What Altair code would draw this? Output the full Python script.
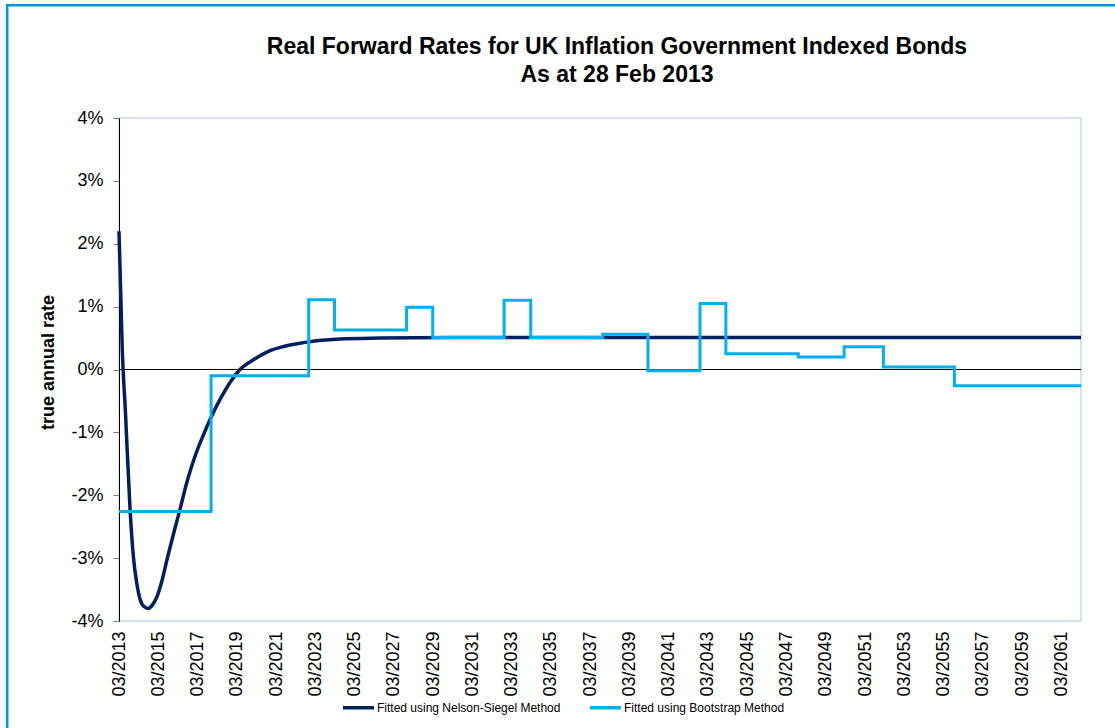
import altair as alt
import pandas as pd

title_lines = ["Real Forward Rates for UK Inflation Government Indexed Bonds", "As at 28 Feb 2013"]
y_title = "true annual rate"
series_names = ["Fitted using Nelson-Siegel Method", "Fitted using Bootstrap Method"]
series_colors = ["#002060", "#00B0F0"]

# Nelson-Siegel fitted curve (values in %)
ns_dates = ["2013-03-01", "2013-05-01", "2013-06-30", "2013-09-23", "2013-11-24",
            "2014-01-25", "2014-03-27", "2014-06-08", "2014-08-29", "2014-11-16",
            "2015-02-11", "2015-05-03", "2015-08-09", "2015-12-08", "2016-04-10",
            "2016-08-12", "2017-01-13", "2017-07-18", "2018-04-21", "2019-04-29",
            "2020-02-04", "2020-11-08", "2021-06-20", "2022-03-27", "2023-01-17",
            "2024-06-04", "2026-06-15", "2030-01-10", "2062-03-01"]
ns_rates = [2.20, 0.31, -0.70, -2.23, -2.98,
            -3.40, -3.65, -3.77, -3.80, -3.74,
            -3.60, -3.38, -3.03, -2.62, -2.22,
            -1.80, -1.38, -0.98, -0.48, 0.00,
            0.17, 0.30, 0.36, 0.41, 0.45,
            0.485, 0.50, 0.51, 0.51]

# Bootstrap fitted curve (step changes, values in %)
bs_dates = ["2013-03-01", "2017-11-08", "2022-10-29", "2024-02-21", "2027-10-25",
            "2029-02-22", "2032-10-11", "2034-02-19", "2037-10-20", "2040-02-09",
            "2042-10-04", "2044-01-28", "2047-10-07", "2050-02-05", "2052-02-06",
            "2055-09-18", "2062-03-01"]
bs_rates = [-2.26, -0.10, 1.11, 0.63, 0.99,
            0.51, 1.10, 0.51, 0.56, -0.02,
            1.05, 0.25, 0.20, 0.36, 0.04,
            -0.26, -0.26]

tick_years = list(range(2013, 2062, 2))
y_ticks = [-4, -3, -2, -1, 0, 1, 2, 3, 4]

ns_df = pd.DataFrame({"date": ns_dates, "rate": ns_rates, "series": series_names[0]})
bs_df = pd.DataFrame({"date": bs_dates, "rate": bs_rates, "series": series_names[1]})

FONT = "Liberation Sans"

x_scale = alt.Scale(type="utc", domain=[alt.DateTime(year=2013, month=3, date=1, utc=True),
                                        alt.DateTime(year=2062, month=3, date=1, utc=True)])
y_scale = alt.Scale(domain=[-4, 4], nice=False, zero=False)

x_axis = alt.Axis(values=[alt.DateTime(year=y, month=3, date=1, utc=True) for y in tick_years],
                  labelExpr="utcFormat(datum.value, '%m/%Y')", labelAngle=270,
                  labelFont=FONT, labelFontSize=18, labelColor="black",
                  ticks=False, domain=False, grid=False, labelPadding=10,
                  title=None, labelOverlap=False)
y_axis = alt.Axis(values=y_ticks, labelExpr="datum.value + '%'",
                  labelFont=FONT, labelFontSize=18, labelColor="black",
                  grid=False, domainColor="black", domainWidth=1,
                  tickColor="#808080", tickSize=6, labelPadding=10,
                  title=y_title, titleFont=FONT, titleFontSize=18, titleFontWeight="bold",
                  titleColor="black", titleAngle=270, titleX=-71, titleY=244,
                  titleAlign="center", titleBaseline="middle")

color_scale = alt.Scale(domain=series_names, range=series_colors)
legend = alt.Legend(orient="none", legendX=222, legendY=572, direction="horizontal",
                    title=None, symbolType="stroke", symbolSize=961, symbolStrokeWidth=3.5,
                    labelFont=FONT, labelFontSize=12, labelColor="black", labelOffset=1,
                    labelLimit=500, columnPadding=22, padding=0)

frame = alt.Chart(pd.DataFrame({"k": [0]})).mark_rect(
    filled=False, stroke="#0099D8", strokeWidth=2.5
).encode(x=alt.value(-111.8), x2=alt.value(1060), y=alt.value(-112.7), y2=alt.value(700))

zero = alt.Chart(pd.DataFrame({"v": [0]})).mark_rule(color="black", strokeWidth=1).encode(
    y=alt.Y("v:Q", scale=y_scale, axis=y_axis)
)

ns_line = alt.Chart(ns_df).mark_line(interpolate="monotone", strokeWidth=3.5).encode(
    x=alt.X("date:T", scale=x_scale, axis=x_axis),
    y=alt.Y("rate:Q", scale=y_scale, axis=y_axis),
    color=alt.Color("series:N", scale=color_scale, legend=legend),
)

bs_line = alt.Chart(bs_df).mark_line(interpolate="step-after", strokeWidth=3).encode(
    x=alt.X("date:T", scale=x_scale, axis=x_axis),
    y=alt.Y("rate:Q", scale=y_scale, axis=y_axis),
    color=alt.Color("series:N", scale=color_scale, legend=legend),
)

chart = alt.layer(zero, ns_line, bs_line, frame).properties(
    width=962, height=503,
    autosize=alt.AutoSizeParams(type="none"),
    padding={"left": 119, "top": 118, "right": 34, "bottom": 107},
    background="white",
    title=alt.TitleParams(text=title_lines, font=FONT, fontSize=23, fontWeight="bold",
                          color="black", anchor="middle", frame="group", dx=17,
                          baseline="alphabetic", lineHeight=28, offset=-100.5),
).configure_view(stroke="#C6D9F1", strokeWidth=1.5)

chart.save("out.html", embed_options={"renderer": "svg", "actions": False})
